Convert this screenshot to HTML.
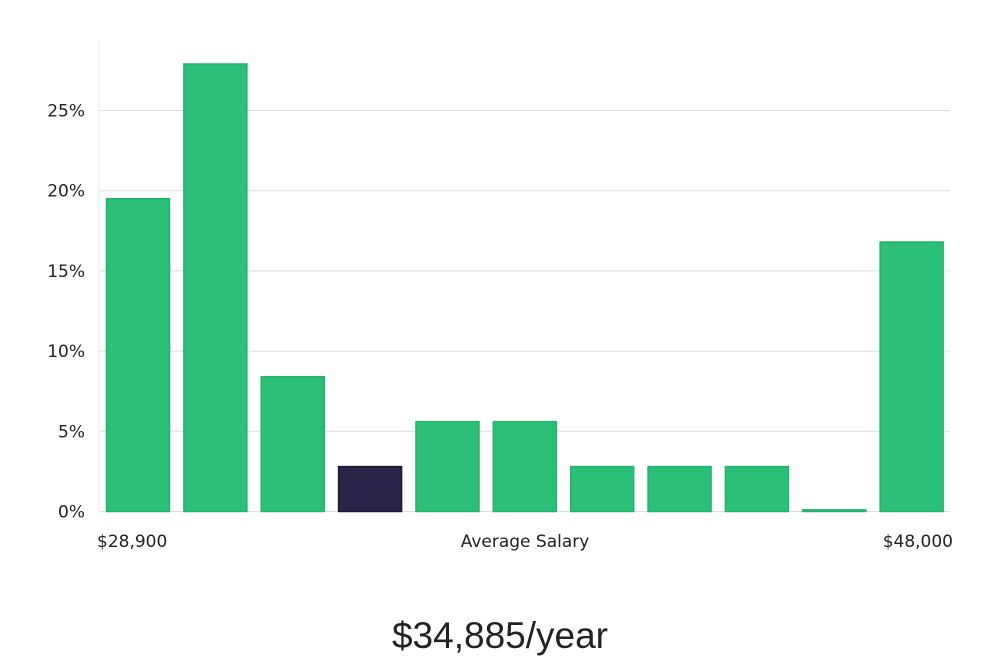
<!DOCTYPE html>
<html><head><meta charset="utf-8"><style>
body{margin:0;background:#fff;width:1000px;height:660px;overflow:hidden;font-family:"DejaVu Sans","Liberation Sans",sans-serif}
svg{display:block}
</style></head><body>
<svg id="chart" width="1000" height="660" xmlns="http://www.w3.org/2000/svg"></svg>
<script>
const categories=["b1","b2","b3","b4","b5","b6","b7","b8","b9","b10","b11"];
const values=[19.5,27.9,8.4,2.8,5.6,5.6,2.8,2.8,2.8,0.1,16.8];
const highlightIndex=[3];
const yTicks=[0,5,10,15,20,25];
const yTickLabels=["0%","5%","10%","15%","20%","25%"];
const xLabels=["$28,900","Average Salary","$48,000"];
const NS="http://www.w3.org/2000/svg";
const svg=document.getElementById('chart');
const x0=99,x1=950,yBase=511.5,yPerUnit=16.04;
const y=v=>yBase-v*yPerUnit;
const step=(x1-x0)/categories.length;
const xb=i=>x0+i*step+7.5;
const bw=63;
function mk(t,a){const e=document.createElementNS(NS,t);for(const k in a)e.setAttribute(k,a[k]);svg.appendChild(e);return e;}
yTicks.forEach((t,i)=>{
 if(t>0){const g=mk('line',{x1:x0,x2:x1,y1:y(t),y2:y(t),stroke:'#dddddd','stroke-width':1});
 
 }
 const l=mk('text',{x:85,y:y(t)+6,'text-anchor':'end','font-size':17,fill:'#222'});
 l.textContent=yTickLabels[i];
 
 
});
const ax=mk('line',{x1:x0,x2:x0,y1:40,y2:yBase,stroke:'#e6e6e6','stroke-width':1});


const bx=mk('line',{x1:x0,x2:x1,y1:yBase,y2:yBase,stroke:'#dddddd','stroke-width':1});


values.forEach((v,i)=>{
 const hi=highlightIndex.includes(i);
 const r=mk('rect',{x:xb(i),y:y(v),width:bw,height:Math.max(1,yBase-y(v)),fill:hi?'#2a2547':'#2bbf78',stroke:hi?'#1c1838':'#22b36d','stroke-width':1.5});
 
 
});
const xl=[[97,'start'],[525,'middle'],[953,'end']];
xLabels.forEach((s,i)=>{
 const t=mk('text',{x:xl[i][0],y:547,'text-anchor':xl[i][1],'font-size':17,fill:'#222'});
 t.textContent=s;
 
 
});
const ti=mk('text',{x:500,y:648,'text-anchor':'middle','font-size':37,fill:'#222','font-family':'"Liberation Sans",sans-serif'});
ti.textContent='$34,885/year';


</script>
</body></html>
